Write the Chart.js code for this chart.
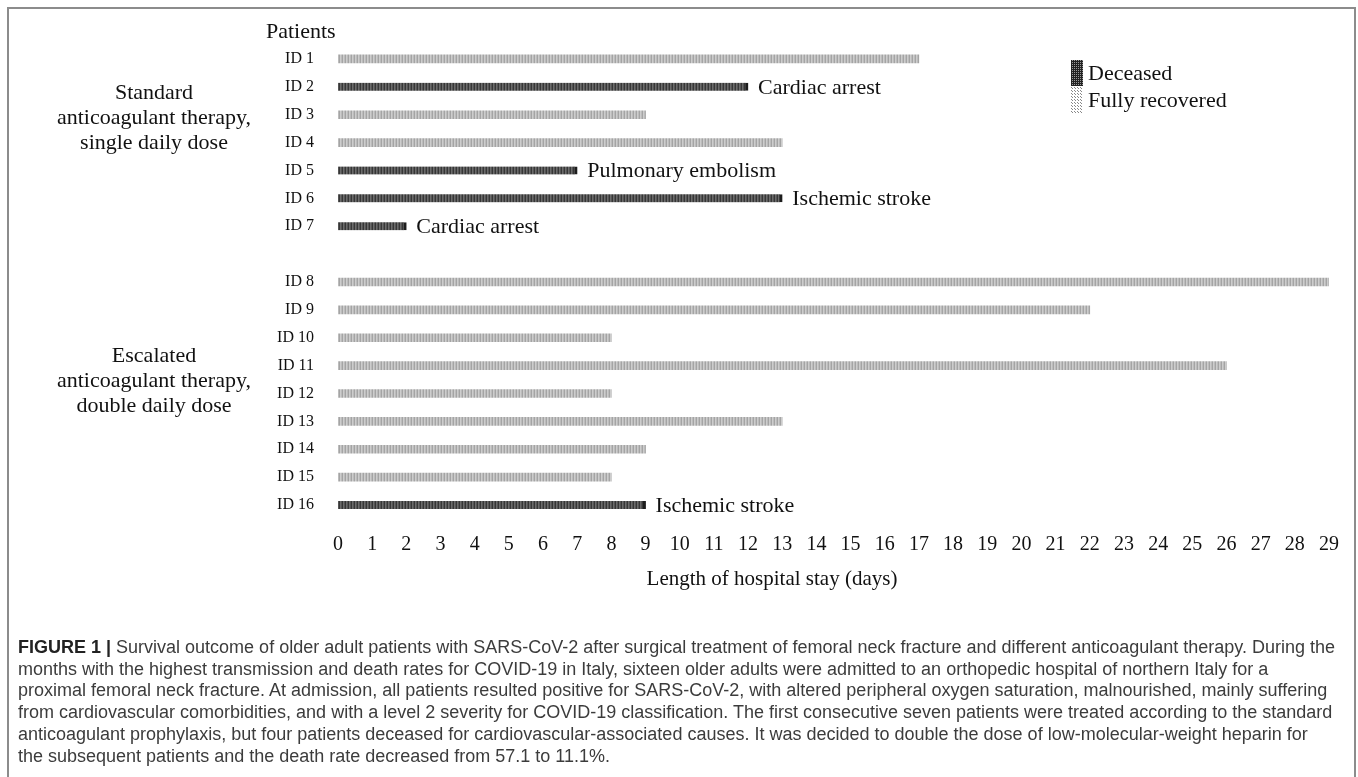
<!DOCTYPE html>
<html>
<head>
<meta charset="utf-8">
<script src="https://cdn.jsdelivr.net/npm/chart.js@4.4.0/dist/chart.umd.min.js"></script>
<style>
  html, body { margin: 0; padding: 0; background: #fff; }
  body { width: 1358px; height: 777px; overflow: hidden; position: relative; }
  #chart { position: absolute; left: 0; top: 0; }
  #frame { position: absolute; left: 7px; top: 7px; width: 1349px; height: 800px; border: 2px solid #8c8c8c; border-bottom: none; box-sizing: border-box; pointer-events: none; }
  #caption { position: absolute; left: 18px; top: 637px; font-family: "Liberation Sans", Arial, sans-serif; font-size: 18px; line-height: 21.7px; color: #3c3c3c; white-space: nowrap; }
  #caption b { color: #222; }
</style>
</head>
<body>
<canvas id="chart" width="1358" height="610"></canvas>
<div id="frame"></div>
<div id="caption">
  <div><b>FIGURE 1 |</b> Survival outcome of older adult patients with SARS-CoV-2 after surgical treatment of femoral neck fracture and different anticoagulant therapy. During the</div>
  <div>months with the highest transmission and death rates for COVID-19 in Italy, sixteen older adults were admitted to an orthopedic hospital of northern Italy for a</div>
  <div>proximal femoral neck fracture. At admission, all patients resulted positive for SARS-CoV-2, with altered peripheral oxygen saturation, malnourished, mainly suffering</div>
  <div>from cardiovascular comorbidities, and with a level 2 severity for COVID-19 classification. The first consecutive seven patients were treated according to the standard</div>
  <div>anticoagulant prophylaxis, but four patients deceased for cardiovascular-associated causes. It was decided to double the dose of low-molecular-weight heparin for</div>
  <div>the subsequent patients and the death rate decreased from 57.1 to 11.1%.</div>
</div>
<script>
// patients in plot order, '' is the empty row between the two groups
const patients = ['ID 1', 'ID 2', 'ID 3', 'ID 4', 'ID 5', 'ID 6', 'ID 7', '',
                  'ID 8', 'ID 9', 'ID 10', 'ID 11', 'ID 12', 'ID 13', 'ID 14', 'ID 15', 'ID 16'];
const stayDays = [17, 12, 9, 13, 7, 13, 2, null, 29, 22, 8, 26, 8, 13, 9, 8, 9];
const outcome = ['R', 'D', 'R', 'R', 'D', 'D', 'D', null, 'R', 'R', 'R', 'R', 'R', 'R', 'R', 'R', 'D'];
const causeOfDeath = ['', 'Cardiac arrest', '', '', 'Pulmonary embolism', 'Ischemic stroke', 'Cardiac arrest', '',
                      '', '', '', '', '', '', '', '', 'Ischemic stroke'];
const groupNames = [
  ['Standard', 'anticoagulant therapy,', 'single daily dose'],
  ['Escalated', 'anticoagulant therapy,', 'double daily dose']
];
const groupAnchor = [2.05, 11.5];   // row index where the middle line of each group label sits
const legendNames = ['Deceased', 'Fully recovered'];

const serif = '"Liberation Serif", "Times New Roman", serif';
const canvas = document.getElementById('chart');
const ctx = canvas.getContext('2d');

function stripes(cols) {
  const c = document.createElement('canvas');
  c.width = cols.length; c.height = 1;
  const g = c.getContext('2d');
  cols.forEach((col, i) => { g.fillStyle = col; g.fillRect(i, 0, 1, 1); });
  return ctx.createPattern(c, 'repeat');
}

function dots(bg, fg, size) {
  const c = document.createElement('canvas');
  c.width = size; c.height = size;
  const g = c.getContext('2d');
  g.fillStyle = bg; g.fillRect(0, 0, size, size);
  g.fillStyle = fg; g.fillRect(0, 0, 1, 1);
  if (size > 2) g.fillRect(Math.floor(size / 2), Math.floor(size / 2), 1, 1);
  return ctx.createPattern(c, 'repeat');
}

const darkFill = stripes(['#363636', '#6c6c6c', '#555555']);
const lightFill = stripes(['#a4a4a4', '#cdcdcd', '#bcbcbc']);

const deceased = stayDays.map((v, i) => outcome[i] === 'D' ? v : null);
const recovered = stayDays.map((v, i) => outcome[i] === 'R' ? v : null);

const extras = {
  id: 'extras',
  afterDraw(chart) {
    const { ctx, scales: { x, y } } = chart;
    ctx.save();
    ctx.fillStyle = '#111';
    ctx.textBaseline = 'middle';
    ctx.font = '22px ' + serif;

    ctx.textAlign = 'left';
    causeOfDeath.forEach((txt, i) => {
      if (!txt) return;
      ctx.fillText(txt, x.getPixelForValue(stayDays[i]) + 10, y.getPixelForValue(i) + 1);
    });

    ctx.fillText('Patients', 266, y.getPixelForValue(0) - 27);

    ctx.textAlign = 'center';
    groupNames.forEach((lines, g) => {
      const mid = y.getPixelForValue(groupAnchor[g]) + 2;
      lines.forEach((line, k) => ctx.fillText(line, 154, mid + (k - 1) * 25));
    });

    ctx.font = '21px ' + serif;
    ctx.fillText('Length of hospital stay (days)', x.getPixelForValue(12.7), 579);

    // legend
    const lx = 1071, ly = 60;
    ctx.fillStyle = dots('#222', '#9a9a9a', 2);
    ctx.fillRect(lx, ly, 12, 26);
    ctx.fillStyle = dots('#fff', '#888', 3);
    ctx.fillRect(lx, ly + 27, 12, 26);
    ctx.fillStyle = '#111';
    ctx.font = '22px ' + serif;
    ctx.textAlign = 'left';
    ctx.fillText(legendNames[0], lx + 17, ly + 14);
    ctx.fillText(legendNames[1], lx + 17, ly + 41);
    ctx.restore();
  }
};

new Chart(ctx, {
  type: 'bar',
  data: {
    labels: patients,
    datasets: [
      {
        label: legendNames[0],
        data: deceased,
        backgroundColor: darkFill,
        borderColor: '#1c1c1c',
        borderWidth: { top: 0, bottom: 0, left: 0, right: 3 },
        borderSkipped: false,
        barThickness: 8,
        grouped: false,
        skipNull: true
      },
      {
        label: legendNames[1],
        data: recovered,
        backgroundColor: lightFill,
        borderWidth: 0,
        barThickness: 8,
        grouped: false,
        skipNull: true
      }
    ]
  },
  options: {
    indexAxis: 'y',
    responsive: false,
    animation: false,
    devicePixelRatio: 1,
    layout: { padding: { left: 0, right: 29, top: 45, bottom: 0 } },
    plugins: { legend: { display: false }, tooltip: { enabled: false } },
    scales: {
      y: {
        grid: { display: false, drawTicks: false },
        border: { display: false },
        ticks: { color: '#111', font: { family: serif, size: 16 }, padding: 24 },
        afterFit(scale) { scale.width = 338; }
      },
      x: {
        min: 0,
        max: 29,
        grid: { display: false, drawTicks: false },
        border: { display: false },
        ticks: { stepSize: 1, color: '#111', font: { family: serif, size: 20 }, padding: 14, maxRotation: 0, autoSkip: false },
        afterFit(scale) { scale.height = 91; }
      }
    }
  },
  plugins: [extras]
});
</script>
</body>
</html>
